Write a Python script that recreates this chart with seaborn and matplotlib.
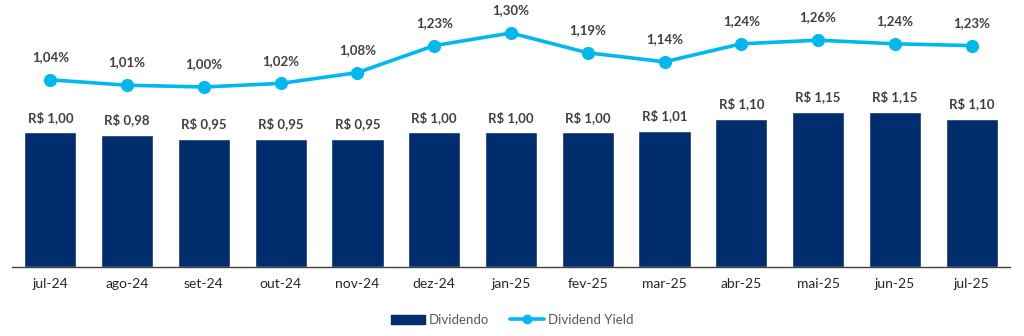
import matplotlib
matplotlib.use("Agg")
import matplotlib.pyplot as plt
import seaborn as sns
import pandas as pd
from matplotlib.patches import Patch
from matplotlib.lines import Line2D

months = ["jul-24", "ago-24", "set-24", "out-24", "nov-24", "dez-24", "jan-25",
          "fev-25", "mar-25", "abr-25", "mai-25", "jun-25", "jul-25"]
dividendo = [1.00, 0.98, 0.95, 0.95, 0.95, 1.00, 1.00, 1.00, 1.01, 1.10, 1.15, 1.15, 1.10]
dividend_yield = [1.04, 1.01, 1.00, 1.02, 1.08, 1.23, 1.30, 1.19, 1.14, 1.24, 1.26, 1.24, 1.23]

NAVY = "#002D6E"
CYAN = "#00B8EE"
LABEL = "#404040"

sns.set_theme(style="white")
plt.rcParams["font.family"] = ["Lato", "DejaVu Sans"]

df = pd.DataFrame({"mes": months, "div": dividendo, "dy": dividend_yield})

fig = plt.figure(figsize=(10.24, 3.36), dpi=100)
ax = fig.add_axes([12 / 1024, 69 / 336, 998 / 1024, 257 / 336])

sns.barplot(data=df, x="mes", y="div", color=NAVY, saturation=1, width=0.68, ax=ax)
ax.set_ylim(0, 257 / 135)
ax.set_xlim(-0.5, len(months) - 0.5)

for i, v in enumerate(dividendo):
    ax.annotate(f"R$ {v:.2f}".replace(".", ","), (i, v), xytext=(0, 6),
                textcoords="offset points", ha="center", va="bottom",
                fontsize=9.5, fontweight="bold", color=LABEL)

ax2 = ax.twinx()
sns.pointplot(data=df, x="mes", y="dy", color=CYAN, markers="o", ax=ax2,
              linewidth=2.6, markersize=7.5)
ax2.set_ylim(0, 257 / 180)
ax2.set_xlim(-0.5, len(months) - 0.5)
for i, v in enumerate(dividend_yield):
    ax2.annotate(f"{v:.2f}%".replace(".", ","), (i, v), xytext=(0, 12),
                 textcoords="offset points", ha="center", va="bottom",
                 fontsize=9.5, fontweight="bold", color=LABEL)

for a in (ax, ax2):
    a.set_xlabel("")
    a.set_ylabel("")
    a.set_yticks([])
    for s in ["top", "right", "left"]:
        a.spines[s].set_visible(False)
ax2.spines["bottom"].set_visible(False)
ax.spines["bottom"].set_color("#404040")
ax.spines["bottom"].set_linewidth(1.0)
ax.tick_params(axis="x", length=0, pad=8, labelsize=10, labelcolor="#262626")

handles = [Patch(facecolor=NAVY, edgecolor=NAVY),
           Line2D([0], [0], color=CYAN, lw=2.6, marker="o", markersize=6)]
fig.legend(handles, ["Dividendo", "Dividend Yield"], loc="center",
           bbox_to_anchor=(0.5, 16 / 336), ncol=2, frameon=False,
           fontsize=9.5, labelcolor="#595959", handlelength=2.6,
           handletextpad=0.25, columnspacing=1.6)

fig.savefig("out.png", dpi=100)
